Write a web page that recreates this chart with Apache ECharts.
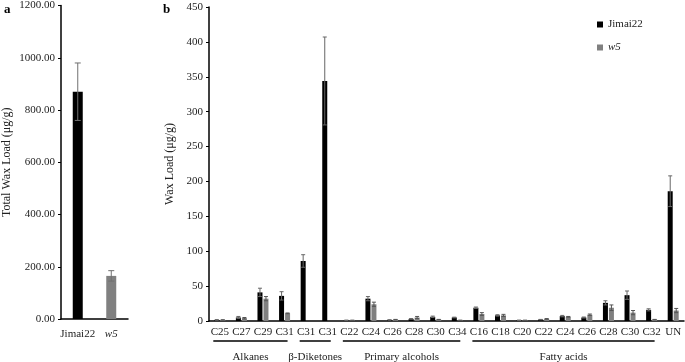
<!DOCTYPE html>
<html>
<head>
<meta charset="utf-8">
<script src="https://cdn.jsdelivr.net/npm/echarts@6/dist/echarts.min.js"></script>
<style>html,body{margin:0;padding:0;background:#fff}#c{width:685px;height:362px}</style>
</head>
<body>
<div id="c"></div>
<script>
// Panel a
var totalCats = ['Jimai22', 'w5'];
var totalValues = [870, 165];
var totalErr = [110, 20];

// Panel b
var categories = ['C25','C27','C29','C31','C31','C31','C22','C24','C26','C28','C30','C34','C16','C18','C20','C22','C24','C26','C28','C30','C32','UN'];
var jimai = [1.5,5,41,36,86,344,1,32,1.5,3,6,5,19,8,1,2,7,5,26,37,16,186];
var jimaiErr = [0.5,1.5,6,6,9,63,0.3,3,0.3,0.5,1,0.5,1,1,0.3,0.3,1,0.7,3,6,1.5,22];
var w5 = [1.5,4,32,11,0,0,1,24,2,5,2,1,10,8,1,3,6,9,19,12,2,15];
var w5Err = [0.3,1,3,0.5,0,0,0.2,3,0.3,1.5,0.3,0.2,2,1.5,0.2,0.5,0.5,1,4,3,0.3,3];
var groups = [
  {name: 'Alkanes', from: 0, to: 3},
  {name: 'β-Diketones', from: 4, to: 5},
  {name: 'Primary alcohols', from: 6, to: 11},
  {name: 'Fatty acids', from: 12, to: 20}
];

var FONT = '"Liberation Serif", "Times New Roman", serif';
var chart = echarts.init(document.getElementById('c'));

function errItem(values, errs, offset, cap, color) {
  return function (params, api) {
    var i = api.value(0);
    var v = api.value(1), e = api.value(2);
    if (!e) return null;
    var top = api.coord([i, v + e]);
    var bot = api.coord([i, v - e]);
    var x = top[0] + offset;
    var style = {stroke: color, lineWidth: 1};
    return {
      type: 'group',
      children: [
        {type: 'line', shape: {x1: x, y1: top[1], x2: x, y2: bot[1]}, style: style},
        {type: 'line', shape: {x1: x - cap, y1: top[1], x2: x + cap, y2: top[1]}, style: style},
        {type: 'line', shape: {x1: x - cap, y1: bot[1], x2: x + cap, y2: bot[1]}, style: style}
      ]
    };
  };
}

function idxData(vals, errs) {
  return vals.map(function (v, i) { return [i, v, errs[i]]; });
}

var richStyles = {
  n: {fontFamily: FONT, fontSize: 11, color: '#222'},
  i: {fontStyle: 'italic', fontFamily: FONT, fontSize: 11, color: '#222'}
};

var option = {
  animation: false,
  textStyle: {fontFamily: FONT},
  grid: [
    {left: 60, top: 5, width: 68, bottom: 43},
    {left: 209, top: 7, right: 1, bottom: 41}
  ],
  legend: {
    data: ['Jimai22', 'w5'],
    orient: 'vertical',
    left: 592,
    top: 14,
    itemWidth: 6,
    itemHeight: 6,
    itemGap: 12,
    icon: 'rect',
    textStyle: {fontFamily: FONT, fontSize: 11, color: '#222', rich: richStyles},
    formatter: function (n) { return n === 'w5' ? '{i|w5}' : '{n|' + n + '}'; }
  },
  xAxis: [
    {
      gridIndex: 0, type: 'category', data: totalCats,
      axisLine: {lineStyle: {color: '#000', width: 1.5}},
      axisTick: {show: false},
      axisLabel: {interval: 0, margin: 10, fontFamily: FONT, fontSize: 11, color: '#222',
        formatter: function (v) { return v === 'w5' ? '{i|w5}' : '{n|' + v + '}'; },
        rich: richStyles}
    },
    {
      gridIndex: 1, type: 'category', data: categories.map(function (c, i) { return String(i); }),
      axisLine: {lineStyle: {color: '#000', width: 1.5}},
      axisTick: {show: false},
      axisLabel: {interval: 0, margin: 6, fontFamily: FONT, fontSize: 11, color: '#222',
        formatter: function (v, i) { return categories[+v]; }}
    }
  ],
  yAxis: [
    {
      gridIndex: 0, type: 'value', min: 0, max: 1200, interval: 200,
      name: 'Total Wax Load (μg/g)', nameLocation: 'middle', nameGap: 48,
      nameTextStyle: {fontFamily: FONT, fontSize: 12, color: '#222'},
      axisLine: {show: true, lineStyle: {color: '#000', width: 1.5}},
      axisTick: {show: true, length: 3, lineStyle: {color: '#000'}},
      splitLine: {show: false},
      axisLabel: {fontFamily: FONT, fontSize: 11, color: '#222', margin: 6,
        formatter: function (v) { return v.toFixed(2); }}
    },
    {
      gridIndex: 1, type: 'value', min: 0, max: 450, interval: 50,
      name: 'Wax Load (μg/g)', nameLocation: 'middle', nameGap: 28,
      nameTextStyle: {fontFamily: FONT, fontSize: 12, color: '#222'},
      axisLine: {show: true, lineStyle: {color: '#000', width: 1.5}},
      axisTick: {show: true, length: 3, lineStyle: {color: '#000'}},
      splitLine: {show: false},
      axisLabel: {fontFamily: FONT, fontSize: 11, color: '#222', margin: 6}
    }
  ],
  series: [
    {
      type: 'bar', xAxisIndex: 0, yAxisIndex: 0, barWidth: 10,
      data: totalValues.map(function (v, i) {
        return {value: v, itemStyle: {color: i === 0 ? '#000' : '#808080'}};
      })
    },
    {
      type: 'custom', xAxisIndex: 0, yAxisIndex: 0, z: 5,
      renderItem: errItem(totalValues, totalErr, 0, 3, '#707070'),
      data: idxData(totalValues, totalErr)
    },
    {
      name: 'Jimai22', type: 'bar', xAxisIndex: 1, yAxisIndex: 1,
      barWidth: 5, barGap: '20%', itemStyle: {color: '#000'}, data: jimai
    },
    {
      name: 'w5', type: 'bar', xAxisIndex: 1, yAxisIndex: 1,
      barWidth: 5, barGap: '20%', itemStyle: {color: '#808080'}, data: w5
    },
    {
      type: 'custom', xAxisIndex: 1, yAxisIndex: 1, z: 5,
      renderItem: errItem(jimai, jimaiErr, -3, 2, '#666'),
      data: idxData(jimai, jimaiErr)
    },
    {
      type: 'custom', xAxisIndex: 1, yAxisIndex: 1, z: 5,
      renderItem: errItem(w5, w5Err, 3, 2, '#555'),
      data: idxData(w5, w5Err)
    }
  ]
};
chart.setOption(option);

var graphics = [
  {type: 'text', left: 4, top: 3, style: {text: 'a', font: 'bold 13px ' + FONT, fill: '#000'}},
  {type: 'text', left: 163, top: 3, style: {text: 'b', font: 'bold 13px ' + FONT, fill: '#000'}}
];
groups.forEach(function (g) {
  var x1 = chart.convertToPixel({xAxisIndex: 1}, String(g.from)) - 6.5;
  var x2 = chart.convertToPixel({xAxisIndex: 1}, String(g.to)) + 3;
  graphics.push({type: 'line', shape: {x1: x1, y1: 341, x2: x2, y2: 341},
    style: {stroke: '#000', lineWidth: 1.5}});
  graphics.push({type: 'text', x: (x1 + x2) / 2, y: 357,
    style: {text: g.name, font: '11px ' + FONT, fill: '#222', textAlign: 'center', textVerticalAlign: 'middle'}});
});
chart.setOption({graphic: graphics});
</script>
</body>
</html>
